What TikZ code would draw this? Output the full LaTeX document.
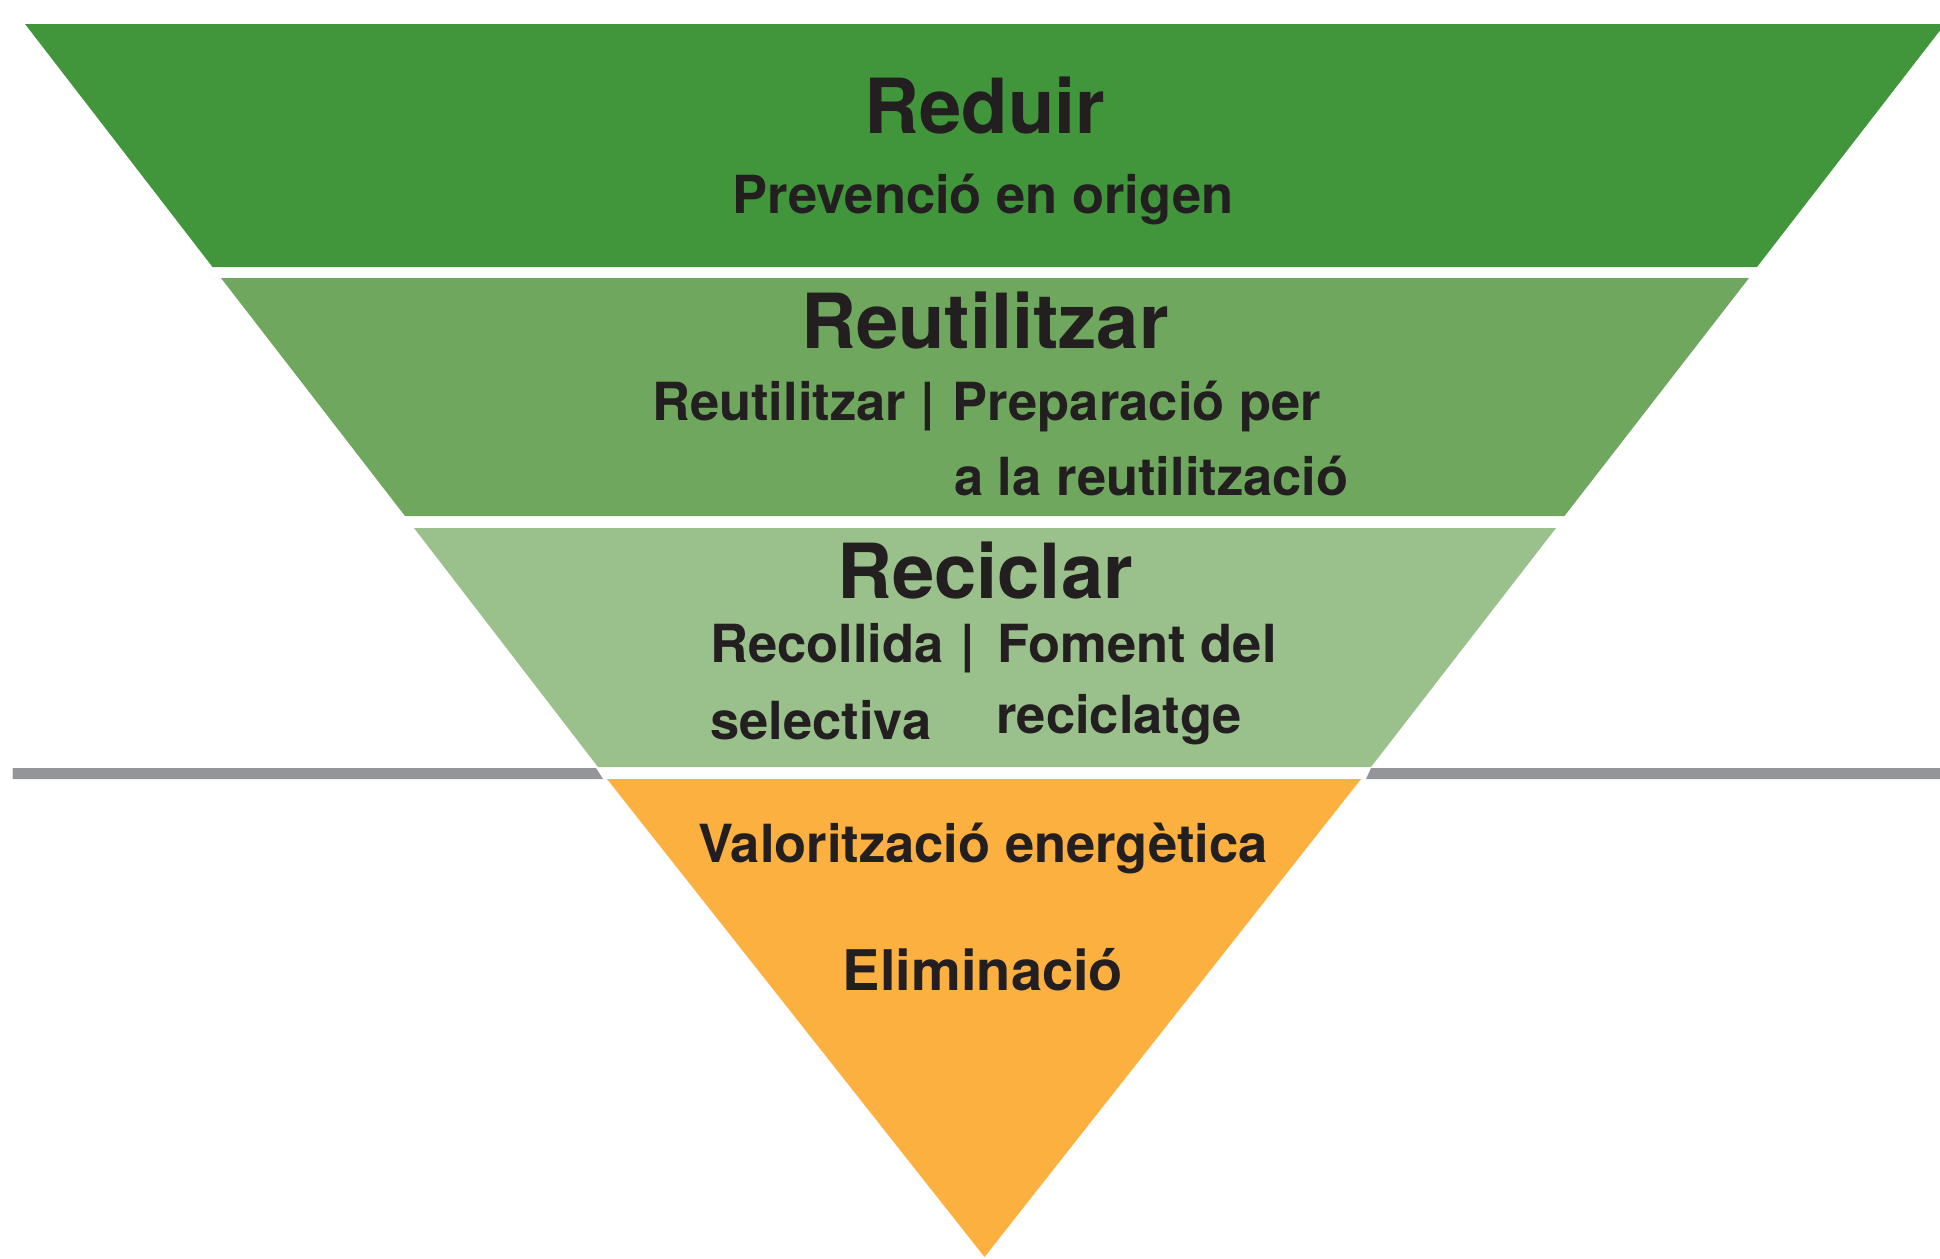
\documentclass[tikz,border=0pt]{standalone}
\usepackage{fontspec}
\setmainfont{TeX Gyre Heros}
\definecolor{gA}{HTML}{41953B}
\definecolor{gB}{HTML}{6FA75F}
\definecolor{gC}{HTML}{9AC08B}
\definecolor{orng}{HTML}{FBB040}
\definecolor{grayline}{HTML}{939598}
\definecolor{ink}{HTML}{231F20}
\tikzset{
  band/.style={draw=none},
  title/.style={inner sep=0pt, text=ink, font=\bfseries\fontsize{76}{90}\selectfont, anchor=base},
  sub/.style={inner sep=0pt, text=ink, font=\bfseries\fontsize{52.5}{63}\selectfont},
}
\begin{document}
\begin{tikzpicture}[x=1pt,y=-1pt]
\useasboundingbox (0,0) rectangle (1940,1258);
\clip (0,0) rectangle (1940,1258);
% separator line
\fill[grayline] (12.5,768) -- (596,768) -- (603,779) -- (12.5,779) -- cycle;
\fill[grayline] (1371,768) -- (1940,768) -- (1940,779) -- (1366,779) -- cycle;
% bands
\fill[gA, band] (25,24) -- (1945,24) -- (1757,267) -- (212.5,267) -- cycle;
\fill[gB, band] (221,278) -- (1749,278) -- (1564.5,516) -- (405,516) -- cycle;
\fill[gC, band] (414,528) -- (1556,528) -- (1371,767) -- (598,767) -- cycle;
\fill[orng, band] (607,779) -- (1361,779) -- (984.5,1257) -- cycle;
% texts
\node[title] (reduir) at (985,133) {Reduir};
\node[sub, anchor=base] (prev) at (983,213) {Prevenció en origen};
\node[title] (reut) at (985,348) {Reutilitzar};
\node[sub, anchor=base west] (reutA) at (652,420) {Reutilitzar |\hspace{3pt} Preparació per};
\node[sub, anchor=base west] (reutB) at (954,495) {a la reutilització};
\node[title] (recic) at (985,598) {Reciclar};
\node[sub, anchor=base west] (recA) at (710,662) {Recollida\hspace{2pt} |\hspace{8pt} Foment del};
\node[sub, anchor=base west] (recB) at (710,739) {selectiva};
\node[sub, anchor=base west] (recC) at (996,733) {reciclatge};
\node[sub, anchor=base] (valor) at (983,862) {Valorització energètica};
\node[sub, anchor=base, font=\bfseries\fontsize{56}{66}\selectfont] (elim) at (983,990) {Eliminació};
\end{tikzpicture}
\end{document}
